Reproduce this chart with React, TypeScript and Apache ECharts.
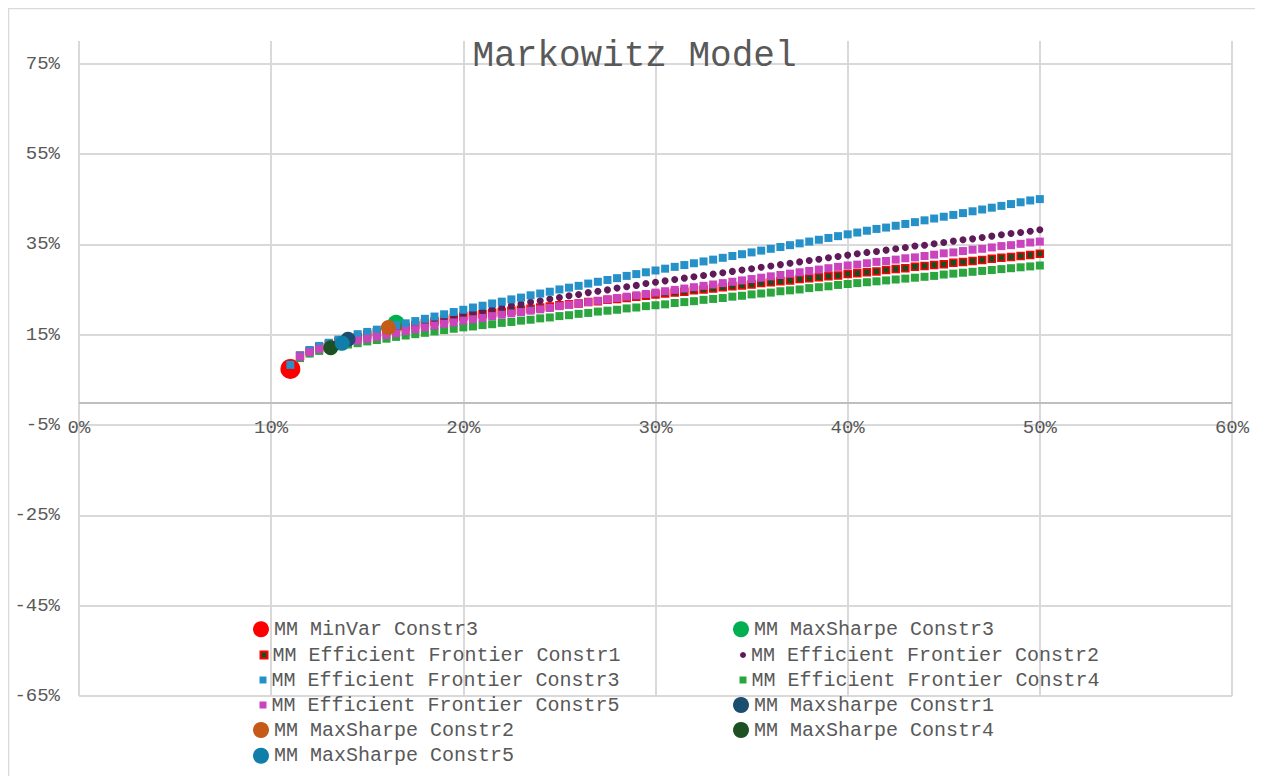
import React, { useEffect, useRef } from "react";
import * as echarts from "echarts";

const FONT = "'Liberation Mono', 'DejaVu Sans Mono', monospace";
const TEXT_COLOR = "#595959";

// Risk (x, %) of the efficient-frontier points
const riskX = [
  11, 11.5, 12, 12.5, 13, 13.5, 14, 14.5, 15, 15.5, 16, 16.5, 17, 17.5, 18, 18.5, 19, 19.5, 20,
  20.5, 21, 21.5, 22, 22.5, 23, 23.5, 24, 24.5, 25, 25.5, 26, 26.5, 27, 27.5, 28, 28.5, 29, 29.5, 30,
  30.5, 31, 31.5, 32, 32.5, 33, 33.5, 34, 34.5, 35, 35.5, 36, 36.5, 37, 37.5, 38, 38.5, 39, 39.5, 40,
  40.5, 41, 41.5, 42, 42.5, 43, 43.5, 44, 44.5, 45, 45.5, 46, 46.5, 47, 47.5, 48, 48.5, 49, 49.5, 50,
];

// Return (y, %) of each efficient frontier (null = no point at that risk)
const ef1Return = [
  8.3, 10.3, 11.4, 12.2, 12.9, 13.5, 14.0, 14.5, 15.0, 15.5, 15.9, 16.3, 16.7, 17.1, 17.5, 17.9, 18.3, 18.7, 19.0,
  19.3, 19.5, 19.8, 20.0, 20.3, 20.5, 20.7, 21.0, 21.2, 21.5, 21.7, 21.9, 22.2, 22.4, 22.7, 22.9, 23.1, 23.4, 23.6, 23.9,
  24.1, 24.3, 24.5, 24.8, 25.0, 25.2, 25.5, 25.7, 25.9, 26.1, 26.4, 26.6, 26.8, 27.0, 27.3, 27.5, 27.7, 27.9, 28.1, 28.4,
  28.6, 28.8, 29.0, 29.3, 29.5, 29.7, 30.0, 30.2, 30.4, 30.6, 30.9, 31.1, 31.3, 31.5, 31.8, 32.0, 32.2, 32.4, 32.6, 32.9,
];
const ef2Return = [
  8.3, 10.3, 11.5, 12.3, 13.0, 13.6, 14.2, 14.8, 15.3, 15.8, 16.3, 16.8, 17.3, 17.7, 18.1, 18.5, 18.9, 19.3, 19.7,
  20.1, 20.4, 20.8, 21.1, 21.5, 21.8, 22.2, 22.5, 22.9, 23.2, 23.6, 23.9, 24.3, 24.6, 24.9, 25.3, 25.6, 25.9, 26.3, 26.6,
  26.9, 27.2, 27.5, 27.8, 28.1, 28.4, 28.7, 29.0, 29.3, 29.6, 29.9, 30.2, 30.5, 30.8, 31.1, 31.4, 31.7, 32.0, 32.3, 32.6,
  32.9, 33.2, 33.4, 33.7, 34.0, 34.3, 34.6, 34.8, 35.1, 35.4, 35.7, 36.0, 36.2, 36.5, 36.8, 37.1, 37.4, 37.6, 37.9, 38.2,
];
const ef3Return = [
  8.3, 10.4, 11.6, 12.5, 13.2, 13.9, 14.5, 15.1, 15.6, 16.1, 16.6, 17.1, 17.5, 18.0, 18.5, 19.0, 19.5, 20.0, 20.5,
  21.0, 21.4, 21.9, 22.3, 22.8, 23.2, 23.7, 24.1, 24.5, 25.0, 25.4, 25.8, 26.3, 26.7, 27.1, 27.5, 28.0, 28.4, 28.8, 29.2,
  29.6, 30.0, 30.4, 30.8, 31.2, 31.6, 32.0, 32.4, 32.8, 33.2, 33.6, 34.0, 34.4, 34.8, 35.2, 35.6, 36.0, 36.4, 36.8, 37.2,
  37.6, 38.0, 38.4, 38.7, 39.1, 39.5, 39.9, 40.3, 40.7, 41.1, 41.5, 41.9, 42.3, 42.7, 43.1, 43.5, 43.9, 44.3, 44.7, 45.0,
];
const ef4Return = [
  null, 9.8, 10.8, 11.4, 11.9, 12.4, 12.8, 13.1, 13.5, 13.8, 14.1, 14.5, 14.8, 15.1, 15.4, 15.7, 16.0, 16.3, 16.6,
  16.8, 17.1, 17.3, 17.6, 17.8, 18.1, 18.3, 18.6, 18.8, 19.1, 19.3, 19.6, 19.8, 20.1, 20.3, 20.5, 20.8, 21.0, 21.3, 21.5,
  21.7, 22.0, 22.2, 22.4, 22.7, 22.9, 23.1, 23.4, 23.6, 23.9, 24.1, 24.3, 24.6, 24.8, 25.0, 25.3, 25.5, 25.7, 26.0, 26.2,
  26.4, 26.6, 26.8, 27.0, 27.2, 27.4, 27.6, 27.8, 28.0, 28.3, 28.5, 28.7, 28.9, 29.1, 29.3, 29.5, 29.7, 29.9, 30.1, 30.3,
];
const ef5Return = [
  null, 10.1, 11.1, 11.8, 12.4, 12.9, 13.3, 13.7, 14.1, 14.5, 14.9, 15.3, 15.8, 16.2, 16.6, 17.0, 17.4, 17.7, 18.1,
  18.4, 18.7, 19.1, 19.4, 19.7, 20.0, 20.3, 20.6, 20.9, 21.3, 21.6, 21.9, 22.2, 22.5, 22.8, 23.1, 23.4, 23.7, 24.0, 24.3,
  24.6, 24.9, 25.2, 25.5, 25.8, 26.1, 26.4, 26.7, 27.0, 27.3, 27.6, 27.9, 28.2, 28.5, 28.8, 29.1, 29.4, 29.7, 30.0, 30.3,
  30.5, 30.8, 31.1, 31.3, 31.6, 31.9, 32.1, 32.4, 32.7, 33.0, 33.2, 33.5, 33.8, 34.0, 34.3, 34.6, 34.8, 35.1, 35.4, 35.6,
];

// Single portfolios [risk %, return %]
const minVarConstr3 = [11.0, 7.4];
const maxSharpeConstr3 = [16.5, 17.5];
const maxSharpeConstr1 = [14.0, 14.0];
const maxSharpeConstr2 = [16.1, 16.6];
const maxSharpeConstr4 = [13.1, 12.1];
const maxSharpeConstr5 = [13.7, 13.1];

const seriesNames = [
  "MM MinVar Constr3",
  "MM MaxSharpe Constr3",
  "MM Efficient Frontier Constr1",
  "MM Efficient Frontier Constr2",
  "MM Efficient Frontier Constr3",
  "MM Efficient Frontier Constr4",
  "MM Efficient Frontier Constr5",
  "MM Maxsharpe Constr1",
  "MM MaxSharpe Constr2",
  "MM MaxSharpe Constr4",
  "MM MaxSharpe Constr5",
];

const xTicks = { min: 0, max: 60, interval: 10 };
const yTicks = { min: -65, max: 80, interval: 20 };

const zip = (xs: number[], ys: (number | null)[]) =>
  xs.map((x, i) => [x, ys[i]]).filter((p) => p[1] !== null);

const GRID = { left: 71, right: 29, top: 33, bottom: 87 };
const HEIGHT = 775;

function buildOption() {
  const point = (name: string, p: number[], color: string, size: number) => ({
    name,
    type: "scatter",
    data: [p],
    symbol: "circle",
    symbolSize: size,
    itemStyle: { color, opacity: 1 },
  });
  const frontier = (name: string, ys: (number | null)[], symbol: string, size: number, itemStyle: any) => ({
    name,
    type: "scatter",
    data: zip(riskX, ys),
    symbol,
    symbolSize: size,
    itemStyle: { opacity: 1, ...itemStyle },
  });

  const first: any = point(seriesNames[0], minVarConstr3, "#ff0000", 20);
  // horizontal axis line at return = 0
  first.markLine = {
    silent: true,
    symbol: "none",
    label: { show: false },
    lineStyle: { color: "#bfbfbf", width: 2, type: "solid" },
    data: [{ yAxis: 0 }],
  };

  const series = [
    first,
    point(seriesNames[1], maxSharpeConstr3, "#00b050", 17),
    frontier(seriesNames[2], ef1Return, "rect", 7, { color: "#1e4a22", borderColor: "#ff0000", borderWidth: 1.5 }),
    frontier(seriesNames[3], ef2Return, "circle", 7, { color: "#5e1b58" }),
    frontier(seriesNames[4], ef3Return, "rect", 8, { color: "#2591c8" }),
    frontier(seriesNames[5], ef4Return, "rect", 8, { color: "#2ba53d" }),
    frontier(seriesNames[6], ef5Return, "rect", 8, { color: "#c944bd" }),
    point(seriesNames[7], maxSharpeConstr1, "#1b4d6e", 15),
    point(seriesNames[8], maxSharpeConstr2, "#c65a17", 15),
    point(seriesNames[9], maxSharpeConstr4, "#1c5223", 15),
    point(seriesNames[10], maxSharpeConstr5, "#0f7fa9", 15),
  ];

  const rows = [621.3, 647, 672, 697, 722, 747.7];
  const legendItem = (idx: number, icon: string, w: number, h: number, centerX: number, big: boolean) => {
    const row = Math.floor(idx / 2);
    const left = big ? centerX - w / 2 - 2 : centerX - w / 2;
    return {
      data: [seriesNames[idx]],
      orient: "horizontal",
      left,
      top: rows[row] - 10,
      icon,
      itemWidth: w,
      itemHeight: h,
      padding: 0,
      selectedMode: false,
      textStyle: { fontFamily: FONT, fontSize: 20, color: TEXT_COLOR, lineHeight: 20 },
    };
  };
  const L = 255;
  const R = 735;
  const legend = [
    legendItem(0, "circle", 16, 16, L, true),
    legendItem(1, "circle", 16, 16, R, true),
    legendItem(2, "rect", 7, 7, L, false),
    legendItem(3, "circle", 6, 6, R, false),
    legendItem(4, "rect", 7, 7, L, false),
    legendItem(5, "rect", 7, 7, R, false),
    legendItem(6, "rect", 7, 7, L, false),
    legendItem(7, "circle", 16, 16, R, true),
    legendItem(8, "circle", 16, 16, L, true),
    legendItem(9, "circle", 16, 16, R, true),
    legendItem(10, "circle", 16, 16, L, true),
  ];

  // distance from the bottom of the grid up to the y = 0 line
  const plotH = HEIGHT - GRID.top - GRID.bottom;
  const zeroOffset = -(plotH * (0 - yTicks.min)) / (yTicks.max - yTicks.min);

  return {
    animation: false,
    backgroundColor: "#ffffff",
    title: {
      text: "Markowitz Model",
      left: "center",
      top: 30,
      padding: 0,
      textStyle: { fontFamily: FONT, fontSize: 36, fontWeight: "normal", color: TEXT_COLOR },
    },
    graphic: [
      {
        type: "rect",
        silent: true,
        z: -10,
        shape: { x: 0.5, y: 0.5, width: 1251, height: 800 },
        style: { fill: "none", stroke: "#d9d9d9", lineWidth: 1.5 },
      },
    ],
    legend,
    grid: { ...GRID, containLabel: false },
    xAxis: {
      type: "value",
      position: "bottom",
      offset: zeroOffset,
      min: xTicks.min,
      max: xTicks.max,
      interval: xTicks.interval,
      axisLine: { show: false },
      axisTick: { show: false },
      axisLabel: {
        formatter: (v: number) => `${v}%`,
        margin: 16,
        color: TEXT_COLOR,
        fontFamily: FONT,
        fontSize: 19,
      },
      splitLine: { show: true, lineStyle: { color: "#d9d9d9", width: 2 } },
    },
    yAxis: {
      type: "value",
      min: yTicks.min,
      max: yTicks.max,
      interval: yTicks.interval,
      axisLine: { show: false },
      axisTick: { show: false },
      axisLabel: {
        formatter: (v: number) => `${v}%`,
        margin: 19,
        color: TEXT_COLOR,
        fontFamily: FONT,
        fontSize: 19,
        showMaxLabel: false,
      },
      splitLine: { show: true, showMaxLine: false, lineStyle: { color: "#d9d9d9", width: 2 } },
    },
    series,
  };
}

export default function App() {
  const ref = useRef<HTMLDivElement>(null);
  useEffect(() => {
    document.body.style.overflow = "hidden";
    const chart = echarts.init(ref.current as HTMLDivElement, null, { renderer: "svg" });
    chart.setOption(buildOption() as any);
    return () => chart.dispose();
  }, []);
  return <div ref={ref} style={{ width: 1253, height: HEIGHT }} />;
}
